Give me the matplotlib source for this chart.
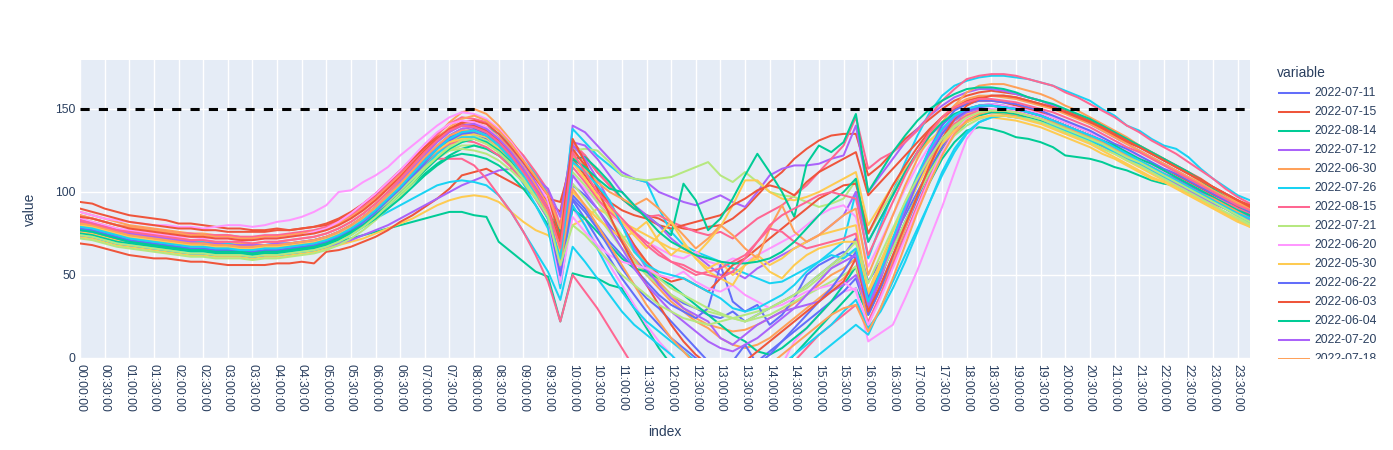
import numpy as np
import matplotlib
matplotlib.use("Agg")
import matplotlib.pyplot as plt
from matplotlib.lines import Line2D
from matplotlib.transforms import Bbox, TransformedBbox

plt.rcParams['font.family'] = ['Liberation Sans', 'DejaVu Sans']

# 15 minute steps over one day
times = [f"{i // 4:02d}:{i % 4 * 15:02d}:00" for i in range(96)]

limit = 150

d_0711 = [82,80,78,76,74,73,72,71,70,69,69,68,68,67,67,67,68,68,69,70,
          72,75,79,84,90,96,103,110,118,125,132,136,138,135,129,121,112,101,90,58,
          104,98,90,80,70,60,52,45,38,33,30,26,24,28,22,26,30,34,38,44,50,56,62,72,
          46,58,72,86,100,114,127,138,145,149,150,150,149,147,145,143,140,137,134,131,
          127,124,120,117,113,110,106,102,98,94,90,86]
d_0715 = [94,93,90,88,86,85,84,83,81,81,80,79,78,78,77,77,78,77,78,79,
          80,83,87,92,98,105,112,119,126,132,137,140,141,138,132,124,114,104,94,88,
          128,122,112,104,96,90,86,84,80,78,77,79,80,84,90,98,106,112,120,126,131,134,135,135,
          110,116,124,132,138,144,150,155,158,160,161,160,159,157,155,152,149,146,143,140,
          136,132,128,124,120,116,112,108,103,99,95,91]
d_0814 = [78,77,75,73,71,70,69,68,67,66,65,64,64,63,63,63,64,64,65,66,
          68,70,72,74,76,78,80,82,84,86,88,88,86,85,70,64,58,52,49,22,
          51,49,48,44,42,30,18,6,-4,-12,-18,-22,-24,-24,-22,-18,-12,-6,2,10,18,26,34,42,
          26,42,58,74,90,106,120,130,137,139,138,136,133,132,130,127,122,121,120,118,
          115,113,110,107,105,104,100,97,94,91,88,85]
d_0712 = [80,79,77,75,73,72,71,70,69,68,68,67,67,67,66,67,67,68,69,70,
          72,75,79,84,90,97,104,111,119,127,134,138,140,138,133,126,117,106,94,62,
          140,136,128,120,112,108,106,100,97,94,92,95,98,94,91,100,110,114,116,116,117,120,122,140,
          100,110,120,130,138,146,152,157,160,162,162,161,159,157,155,152,148,145,141,137,
          133,129,125,121,117,113,109,105,101,97,93,89]
d_0630 = [88,86,84,82,80,79,78,77,76,75,75,74,74,73,73,73,74,74,75,76,
          78,81,85,90,96,103,110,118,126,134,142,148,150,147,140,131,121,110,98,70,
          125,116,104,92,80,68,56,46,38,30,24,20,18,16,17,20,24,28,33,38,44,50,54,60,
          30,48,68,88,108,126,142,152,160,164,165,165,163,161,159,156,152,149,145,141,
          137,133,128,124,120,115,111,106,102,98,94,90]
d_0726 = [83,81,79,77,75,74,73,72,71,70,70,69,69,68,68,68,69,69,70,71,
          73,76,80,85,91,98,105,112,120,128,134,138,140,139,135,129,121,111,99,75,
          138,130,122,116,110,108,106,90,76,68,64,61,58,54,51,48,45,46,50,54,58,64,70,100,
          60,80,100,118,134,148,158,164,167,169,170,170,169,168,166,164,161,158,155,150,
          146,140,137,132,128,126,121,114,108,103,98,95]
d_0815 = [86,84,82,80,79,78,77,76,75,75,74,74,74,73,73,74,74,75,76,77,
          79,82,86,91,97,104,111,119,127,135,141,145,144,142,137,130,122,112,101,80,
          130,122,112,104,96,90,85,86,82,79,76,74,76,72,78,84,88,92,98,104,112,120,128,145,
          114,120,124,130,137,146,155,162,168,170,171,171,170,168,166,164,160,157,153,149,
          145,140,136,131,127,123,118,113,108,102,97,93]
d_0721 = [76,75,73,71,70,69,68,67,66,65,65,64,64,64,63,64,64,65,66,67,
          69,72,76,81,87,93,100,107,114,120,125,128,128,126,122,117,110,102,92,72,
          125,126,125,118,110,108,107,108,109,112,115,118,110,106,112,106,100,98,97,94,91,93,96,107,
          75,88,100,112,122,131,138,143,147,149,150,150,149,147,145,142,139,136,133,130,
          126,122,118,115,111,108,104,100,96,92,88,84]
d_0620 = [75,74,72,70,69,68,67,66,65,64,64,63,63,63,62,63,63,64,65,66,
          68,71,75,80,86,93,101,109,118,126,133,138,140,138,132,124,114,102,88,48,
          90,80,68,56,44,32,20,10,2,-6,-12,-16,-18,-18,-16,-12,-8,-4,10,18,26,34,40,42,
          10,15,20,36,53,72,91,112,132,142,147,149,149,148,146,143,140,137,134,130,
          127,123,119,116,112,109,105,101,97,93,89,85]
d_0530 = [73,72,70,68,67,66,65,64,63,62,62,61,61,61,60,61,61,62,63,64,
          66,68,70,72,75,78,81,84,88,92,95,97,98,97,94,88,82,77,74,65,
          80,84,90,86,82,78,74,70,66,64,62,70,79,92,107,107,100,96,95,97,100,104,108,112,
          80,92,104,114,123,131,137,141,144,145,145,144,143,141,139,136,133,130,127,123,
          120,116,112,108,106,105,101,96,92,87,83,79]
d_0622 = [79,77,75,73,72,71,70,69,68,67,67,66,66,66,65,66,66,67,68,69,
          71,74,78,83,89,96,103,111,119,127,133,136,135,132,126,118,108,96,84,46,
          95,84,72,60,48,38,28,20,12,6,0,-4,-6,-8,-6,-2,4,10,16,22,28,34,40,48,
          26,42,60,78,96,113,128,140,148,152,153,152,150,148,146,143,140,137,134,130,
          126,122,118,114,110,106,102,98,95,91,87,84]
d_0603 = [69,68,66,64,62,61,60,60,59,58,58,57,56,56,56,56,57,57,58,57,
          64,65,67,70,73,77,82,86,91,96,102,110,112,114,110,106,102,98,96,94,
          120,110,100,94,89,86,84,80,78,80,82,84,86,92,96,101,104,102,98,106,112,116,120,124,
          98,106,114,122,130,138,145,150,153,155,155,154,152,150,148,145,142,139,136,132,
          128,125,121,117,113,110,106,102,98,95,91,88]
d_0604 = [80,78,76,74,72,71,70,69,68,67,67,66,66,65,65,66,66,67,68,69,
          71,74,78,82,87,93,99,105,111,117,122,126,128,126,122,116,110,102,88,76,
          120,121,114,106,96,90,86,80,74,105,95,77,84,96,110,123,112,100,85,117,128,124,130,147,
          100,112,124,134,143,150,155,159,162,163,163,162,160,157,155,153,150,147,144,140,
          136,132,128,124,120,116,112,107,102,97,92,87]
d_0720 = [74,73,71,69,68,67,66,65,64,63,63,62,62,62,61,62,62,63,64,65,
          67,69,71,74,77,80,84,88,92,96,100,104,107,110,113,114,112,108,102,85,
          130,128,120,110,100,92,86,80,72,66,62,56,50,52,48,54,58,62,66,70,74,80,86,100,
          70,84,98,112,124,134,141,146,149,150,150,149,148,146,144,141,138,135,132,129,
          125,121,117,114,110,107,103,99,95,91,87,82]
d_0718 = [84,82,80,78,76,75,74,73,72,71,71,70,70,69,69,70,70,71,72,73,
          75,78,82,87,93,100,107,115,123,131,138,142,142,139,133,125,115,104,92,66,
          118,108,96,84,72,60,50,42,34,28,22,18,12,8,6,8,12,18,24,30,36,42,48,55,
          20,38,58,78,98,116,130,140,146,148,148,147,146,144,142,139,136,133,130,127,
          124,120,116,113,109,105,101,97,93,90,86,83]
d_0725 = [78,77,75,73,71,70,69,68,67,66,66,65,65,64,64,65,65,66,67,68,
          70,73,76,80,84,88,92,96,100,104,106,107,106,104,98,88,76,64,52,35,
          67,58,48,38,28,20,14,8,2,-6,-14,-20,-24,-26,-26,-24,-20,-16,-10,-4,2,8,14,20,
          14,30,46,62,78,94,110,124,135,142,145,146,145,144,142,140,137,134,131,128,
          124,120,117,113,110,106,102,98,94,90,86,82]
d_0801 = [80,79,77,75,73,72,71,70,69,68,68,67,67,66,66,67,67,68,69,70,
          72,75,79,84,90,96,103,110,116,120,120,120,116,108,98,88,76,62,46,22,
          50,40,30,18,6,-6,-16,-24,-30,-34,-36,-36,-34,-30,-26,-20,-14,-8,-2,6,14,20,26,32,
          22,38,56,74,92,110,125,137,145,149,150,150,149,147,145,143,140,137,134,131,
          128,124,120,117,113,109,105,101,97,94,90,87]
d_0610 = [72,71,69,67,66,65,64,63,62,61,61,60,60,60,59,60,60,61,62,63,
          65,68,72,77,83,90,97,105,113,121,128,132,134,131,126,119,110,99,88,60,
          105,96,86,76,66,58,50,44,38,34,30,28,26,24,26,28,30,34,38,42,48,54,60,65,
          40,56,72,88,104,118,130,139,144,147,148,148,147,145,143,140,137,134,131,128,
          124,121,117,113,110,106,102,98,94,90,85,81]
d_0705 = [88,86,84,83,82,81,80,80,79,79,78,79,80,80,79,80,82,83,85,88,
          92,100,101,106,110,115,122,128,134,140,145,148,147,144,138,130,120,108,95,60,
          110,102,94,88,80,74,70,66,62,60,64,58,56,60,58,62,66,70,74,80,86,90,92,85,
          55,70,86,102,116,128,138,145,150,152,153,152,151,149,147,145,142,139,136,132,
          129,125,121,117,113,109,105,101,97,93,89,85]
d_0615 = [76,75,73,71,70,69,68,67,66,65,65,64,64,63,63,64,64,65,66,67,
          69,72,76,81,87,94,101,108,116,124,130,134,135,133,127,120,111,100,88,58,
          100,92,84,78,72,76,82,70,62,68,60,54,58,50,56,62,56,60,66,70,74,76,78,80,
          40,58,76,94,110,124,135,143,147,149,150,149,148,146,144,141,138,135,131,127,
          123,119,115,111,107,103,99,95,91,87,83,80]
d_0805 = [77,76,74,72,70,69,68,67,66,65,65,64,64,64,63,64,64,65,66,67,
          69,72,76,81,87,94,101,109,117,125,131,135,136,134,128,120,110,98,84,52,
          98,90,80,70,62,54,46,38,32,28,24,30,56,34,28,32,20,26,36,50,56,60,64,60,
          30,48,68,88,108,126,140,149,153,155,155,154,153,151,149,146,143,140,137,133,
          129,126,122,118,114,111,107,103,99,95,92,88]
d_0625 = [90,88,86,84,82,81,80,79,78,78,77,77,76,76,76,76,77,77,78,79,
          81,84,88,93,99,106,113,120,127,133,138,142,143,141,135,127,118,108,98,72,
          126,116,104,92,80,68,58,50,46,48,44,40,48,56,60,66,72,78,84,90,96,100,104,105,
          75,90,104,116,127,137,145,151,155,157,158,158,157,155,153,151,148,145,142,138,
          134,130,127,123,119,115,111,107,103,99,95,91]
d_0730 = [75,74,72,70,69,68,67,66,65,64,64,63,63,63,62,63,63,64,65,66,
          68,71,75,79,84,90,96,103,110,116,121,123,122,120,116,110,102,92,80,56,
          90,84,76,68,60,54,52,48,44,38,32,26,20,14,10,4,2,6,12,18,26,34,44,55,
          35,50,66,82,98,112,125,135,142,146,148,148,147,145,143,140,137,134,131,128,
          125,121,118,114,110,106,102,99,95,91,88,84]
d_0612 = [81,79,77,75,73,72,70,69,68,67,67,66,66,65,65,66,66,67,68,69,
          71,74,78,83,89,96,103,111,119,127,134,138,139,137,131,123,113,101,88,52,
          128,120,108,94,80,66,54,44,36,30,26,22,12,8,14,20,24,28,30,32,34,40,44,50,
          30,48,68,88,106,122,135,143,148,150,150,149,148,146,144,141,138,135,132,128,
          124,121,117,113,109,105,101,97,93,90,86,83]
d_0809 = [86,84,82,80,79,78,77,76,75,74,74,73,73,72,72,73,73,74,75,76,
          78,81,85,90,96,103,110,117,125,132,139,144,146,143,137,129,119,109,98,78,
          122,114,106,100,96,92,96,90,82,74,66,72,80,74,66,60,78,92,76,70,74,80,86,90,
          50,68,86,104,120,134,145,152,156,158,158,157,156,154,152,150,147,144,141,137,
          133,129,125,121,117,113,109,105,101,97,93,89]
d_0707 = [74,73,71,69,68,67,66,65,64,63,63,62,62,62,61,62,62,63,64,65,
          67,70,74,79,85,92,99,107,115,123,129,133,133,130,124,116,105,92,78,42,
          92,80,66,52,40,30,22,16,10,4,-2,-8,-12,-14,-14,-12,-8,-4,2,8,14,20,28,35,
          18,28,42,58,76,94,112,126,136,142,145,146,145,144,142,140,137,134,131,128,
          124,121,117,113,109,106,102,98,94,90,86,82]
d_0607 = [82,80,78,76,74,73,72,71,70,69,69,68,68,67,67,68,68,69,70,71,
          73,76,80,85,91,98,105,112,119,125,129,131,130,127,122,115,106,96,84,60,
          115,106,96,88,82,76,70,64,58,54,50,52,54,58,62,70,78,76,70,66,68,70,72,75,
          35,52,70,88,105,120,132,141,146,149,150,150,149,147,145,142,139,136,133,130,
          126,122,119,115,111,107,103,99,95,92,88,85]
d_0811 = [79,78,76,74,72,71,70,69,68,67,67,66,66,65,65,66,66,67,68,69,
          71,74,78,82,88,94,101,108,115,121,125,126,125,123,119,113,106,96,86,68,
          112,104,94,84,74,64,56,48,42,38,34,30,27,24,22,24,26,30,34,38,42,46,50,55,
          35,50,66,82,98,112,124,134,140,144,146,146,145,144,142,139,136,133,130,126,
          123,119,116,112,108,104,100,96,92,88,84,80]
d_0701 = [84,82,80,78,77,76,75,74,73,73,72,72,72,71,71,72,72,73,74,76,
          78,82,87,93,99,106,113,121,129,136,141,143,142,139,132,123,112,99,84,45,
          85,76,68,62,58,56,54,50,48,52,46,42,40,44,38,34,30,32,36,40,42,44,46,40,
          20,36,54,72,90,108,124,136,144,148,150,150,149,147,145,143,140,137,134,131,
          127,123,120,116,112,108,104,100,96,92,88,85]
d_0617 = [80,79,77,75,73,72,71,70,69,68,68,67,67,66,66,67,67,68,69,70,
          72,75,79,84,90,97,104,111,118,125,130,132,132,129,124,117,108,98,87,64,
          118,108,98,90,82,74,66,74,82,70,60,52,48,44,56,60,52,48,56,62,66,68,70,70,
          38,55,72,89,104,118,129,137,142,145,146,146,145,143,141,138,135,132,129,125,
          121,117,113,109,106,102,98,94,90,86,82,79]
d_0713 = [78,77,75,73,71,70,69,68,67,66,66,65,65,65,64,65,65,66,67,68,
          70,73,77,82,88,95,102,110,118,126,132,136,137,134,128,120,110,98,85,50,
          96,88,78,66,54,44,36,30,22,14,6,-2,-6,-2,8,-4,2,10,18,26,34,42,52,64,
          36,52,70,88,106,122,135,144,149,151,152,151,150,148,146,143,140,137,134,131,
          127,123,119,115,111,108,104,100,96,92,88,85]
d_0628 = [85,84,82,80,78,77,76,75,74,73,73,72,72,71,71,72,72,73,74,75,
          77,80,84,89,95,102,109,117,125,132,138,141,140,137,131,123,113,102,90,70,
          132,118,102,86,70,56,44,32,20,10,2,-4,-8,-6,-2,4,10,16,22,28,34,40,46,60,
          28,44,62,80,98,116,132,144,152,156,158,158,157,155,153,151,148,145,142,139,
          135,131,127,123,119,115,111,107,103,99,95,92]
d_0727 = [77,76,74,72,70,69,68,67,66,65,65,64,64,64,63,64,64,65,66,67,
          69,72,76,80,86,92,99,106,113,120,126,130,132,130,125,118,109,98,86,58,
          120,115,108,102,100,92,84,76,70,66,62,60,58,57,57,58,60,64,70,78,86,94,100,108,
          70,84,98,112,124,134,142,147,150,152,152,151,150,148,146,143,140,137,134,131,
          128,124,120,117,113,109,105,101,97,93,89,86]
d_0609 = [83,81,79,77,75,74,73,72,71,70,69,69,68,68,68,68,69,69,70,71,
          73,76,80,85,91,98,106,114,122,130,136,140,141,138,132,124,114,102,90,55,
          110,100,90,78,66,54,44,36,28,22,16,10,6,4,8,12,18,24,30,38,46,54,58,62,
          32,50,70,90,108,124,137,145,150,152,152,151,150,148,146,143,140,137,134,130,
          126,122,118,114,110,107,103,99,95,91,87,84]
d_0722 = [81,80,78,76,74,73,72,71,70,69,69,68,68,67,67,68,68,69,70,71,
          73,76,80,85,91,98,105,113,121,128,134,137,137,134,128,120,110,99,87,56,
          102,92,80,68,56,44,32,22,12,4,-4,-10,-14,-16,-14,-10,-4,2,8,14,20,26,30,32,
          16,30,48,68,88,106,122,135,143,147,149,149,148,146,144,142,139,136,133,130,
          126,122,119,115,111,107,103,99,96,92,88,84]
d_0802 = [79,78,76,74,72,71,70,69,68,67,67,66,66,65,65,66,66,67,68,69,
          71,74,78,83,89,96,103,111,119,126,132,136,137,134,128,120,110,98,84,60,
          118,112,104,95,80,64,56,52,50,48,44,40,36,30,28,30,34,38,44,52,58,62,60,66,
          34,52,72,92,110,126,138,146,150,152,152,151,150,148,146,143,140,137,134,131,
          127,123,119,115,111,107,103,99,95,91,87,84]
d_0629 = [83,81,79,77,76,75,74,73,72,71,71,70,70,70,69,70,70,71,72,73,
          75,78,82,87,93,100,108,116,124,131,137,140,139,136,130,122,112,101,90,66,
          124,112,100,92,84,76,68,62,58,56,52,50,48,52,60,70,80,86,90,94,98,100,98,96,
          62,78,94,110,124,136,145,151,154,156,156,155,154,152,150,148,145,142,139,135,
          131,127,124,120,116,112,108,104,100,96,92,89]
d_0716 = [74,73,71,69,68,67,66,65,64,63,63,62,62,62,61,62,62,63,64,65,
          67,70,74,79,85,92,99,106,114,121,127,131,132,129,124,117,108,97,85,56,
          80,74,66,58,50,44,38,32,28,24,22,20,22,24,22,26,30,34,38,44,50,56,62,70,
          45,62,78,94,108,121,132,140,145,148,149,149,148,146,144,141,138,135,132,129,
          125,121,118,114,110,106,102,98,94,90,86,82]

dates = ['2022-07-11', '2022-07-15', '2022-08-14', '2022-07-12', '2022-06-30',
         '2022-07-26', '2022-08-15', '2022-07-21', '2022-06-20', '2022-05-30',
         '2022-06-22', '2022-06-03', '2022-06-04', '2022-07-20', '2022-07-18',
         '2022-07-25', '2022-08-01', '2022-06-10', '2022-07-05', '2022-06-15',
         '2022-08-05', '2022-06-25', '2022-07-30', '2022-06-12', '2022-08-09',
         '2022-07-07', '2022-06-07', '2022-08-11', '2022-07-01', '2022-06-17',
         '2022-07-13', '2022-06-28', '2022-07-27', '2022-06-09', '2022-07-22',
         '2022-08-02', '2022-06-29', '2022-07-16']
series = [d_0711, d_0715, d_0814, d_0712, d_0630, d_0726, d_0815, d_0721, d_0620, d_0530,
          d_0622, d_0603, d_0604, d_0720, d_0718, d_0725, d_0801, d_0610, d_0705, d_0615,
          d_0805, d_0625, d_0730, d_0612, d_0809, d_0707, d_0607, d_0811, d_0701, d_0617,
          d_0713, d_0628, d_0727, d_0609, d_0722, d_0802, d_0629, d_0716]

colors = ['#636EFA', '#EF553B', '#00CC96', '#AB63FA', '#FFA15A',
          '#19D3F3', '#FF6692', '#B6E880', '#FF97FF', '#FECB52']
txt = '#2a3f5f'

W, H = 1393, 450
fig = plt.figure(figsize=(W / 100, H / 100), dpi=100)
ax = fig.add_axes([80 / W, (H - 358) / H, 1170 / W, 298 / H])
ax.set_facecolor('#E5ECF6')

x = np.arange(len(times))
for i, vals in enumerate(series):
    ax.plot(x, vals, color=colors[i % 10], lw=1.45, solid_joinstyle='round')

ax.axhline(limit, color='black', lw=2.2, linestyle=(0, (3, 3)), zorder=5)

ax.set_xlim(0, len(times) - 1)
ax.set_ylim(0, 179.5)
ax.set_xticks(x[::2])
ax.set_xticklabels(times[::2], rotation=-90, ha='center', va='top')
ax.set_yticks([0, 50, 100, 150])
ax.grid(True, color='white', lw=1)
ax.set_axisbelow(True)
for s in ax.spines.values():
    s.set_visible(False)
ax.tick_params(axis='both', length=0, labelsize=8.7, labelcolor=txt)
ax.tick_params(axis='x', pad=4)
ax.tick_params(axis='y', pad=3)

fig.text(30 / W, 1 - 209 / H, 'value', rotation=90, ha='center', va='center',
         fontsize=10, color=txt)
fig.text(665 / W, 1 - 432 / H, 'index', ha='center', va='center',
         fontsize=10, color=txt)

# legend, cut off at the bottom like the original
clip = TransformedBbox(Bbox.from_extents(1250 / W, (H - 358.5) / H, 1, 1), fig.transFigure)
fig.text(1277 / W, 1 - 73 / H, 'variable', ha='left', va='center', fontsize=10, color=txt)
for i, d in enumerate(dates[:15]):
    yy = 1 - (92.7 + 19 * i) / H
    ln = Line2D([1279 / W, 1309 / W], [yy, yy], transform=fig.transFigure,
                color=colors[i % 10], lw=1.45)
    ln.set_clip_box(clip)
    fig.add_artist(ln)
    t = fig.text(1314 / W, yy, d, ha='left', va='center', fontsize=8.7, color=txt)
    t.set_clip_box(clip)
    t.set_clip_on(True)

fig.savefig('out.png', dpi=100)
